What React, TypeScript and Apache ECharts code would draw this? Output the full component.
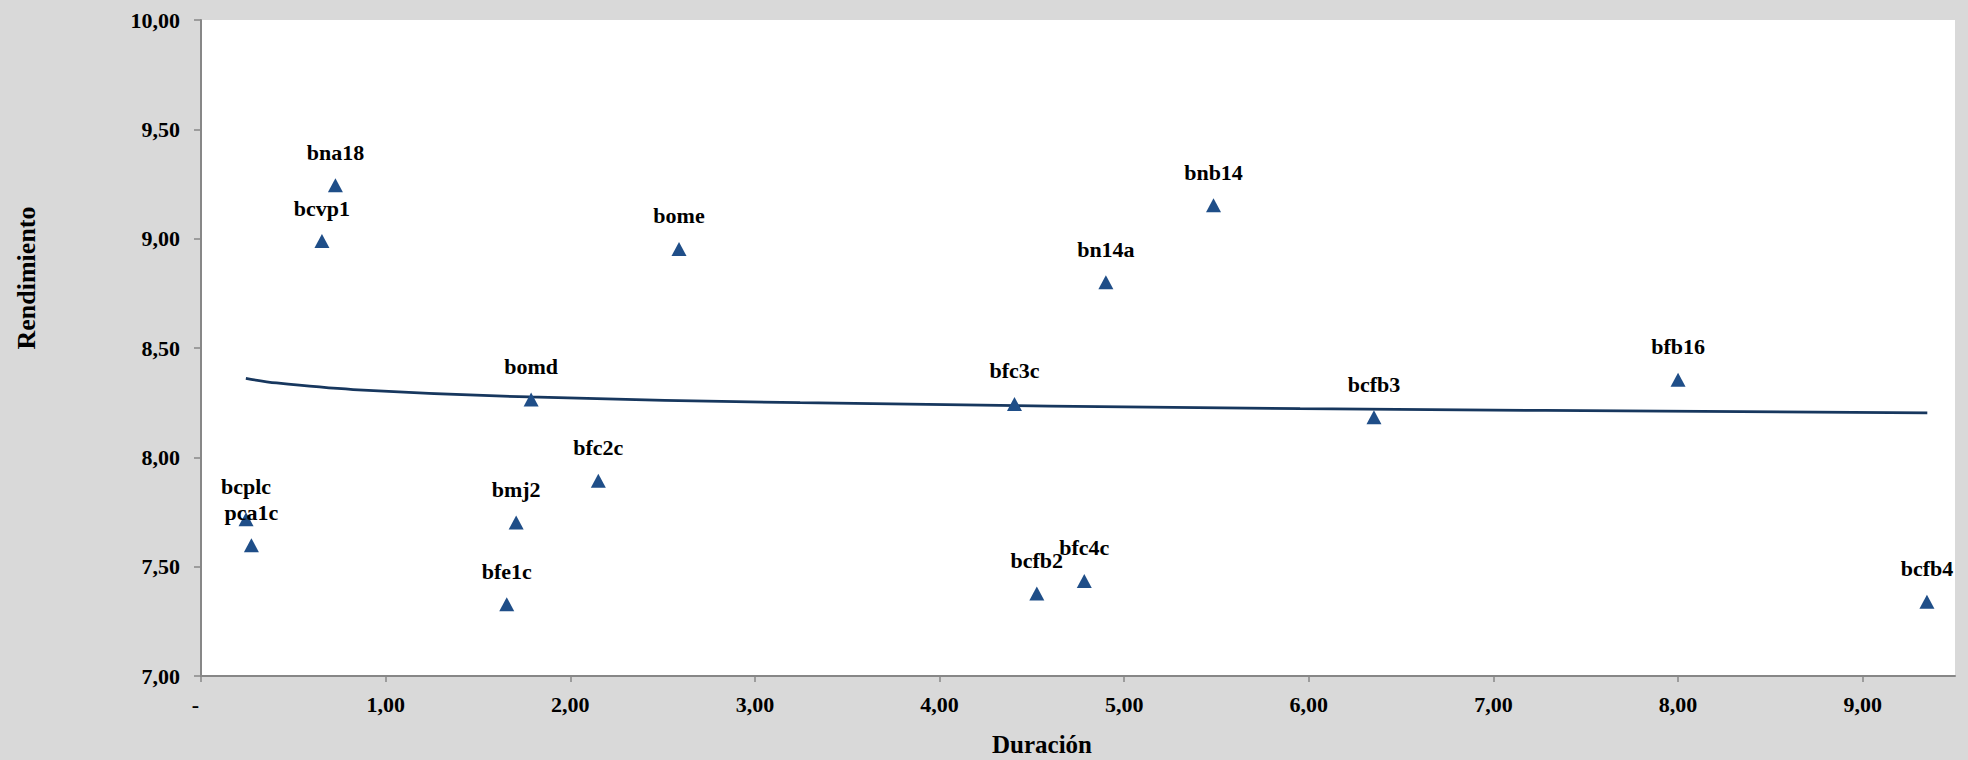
import React, { useEffect, useRef } from "react";
import * as echarts from "echarts";

// Bond names, durations (x) and yields (y)
const bondNames = [
  "bcplc", "pca1c", "bcvp1", "bna18", "bfe1c", "bmj2", "bomd", "bfc2c", "bome",
  "bfc3c", "bcfb2", "bfc4c", "bn14a", "bnb14", "bcfb3", "bfb16", "bcfb4",
];
const durations = [
  0.244, 0.273, 0.655, 0.728, 1.656, 1.707, 1.788, 2.152, 2.589,
  4.406, 4.527, 4.784, 4.901, 5.484, 6.353, 8.0, 9.348,
];
const yields = [
  7.717, 7.598, 8.989, 9.244, 7.328, 7.702, 8.264, 7.893, 8.953,
  8.244, 7.377, 7.435, 8.801, 9.153, 8.183, 8.355, 7.34,
];

// Trend curve
const curveX = [0.243, 0.409, 0.824, 1.777, 3.245, 5.953, 9.35];
const curveY = [8.361, 8.34, 8.31, 8.276, 8.25, 8.223, 8.203];

// Tick values
const xTicks = [0, 1, 2, 3, 4, 5, 6, 7, 8, 9];

const FONT = "'Liberation Serif', 'Times New Roman', serif";
const AXIS_GRAY = "#878787";

const fmt = (v: number) => v.toFixed(2).replace(".", ",");

export default function App() {
  const ref = useRef<HTMLDivElement>(null);

  useEffect(() => {
    if (!ref.current) return;
    const chart = echarts.init(ref.current, null, { renderer: "svg" });

    const labelStyle = {
      fontFamily: FONT,
      fontWeight: "bold" as const,
      fontSize: 22,
      color: "#000",
    };

    chart.setOption({
      animation: false,
      backgroundColor: "#d9d9d9",
      grid: {
        left: 201,
        top: 20,
        right: 13,
        bottom: 84,
        show: true,
        backgroundColor: "#ffffff",
        borderWidth: 0,
        containLabel: false,
      },
      xAxis: {
        type: "value",
        min: 0,
        max: 9.5,
        interval: 1,
        axisLine: { show: true, onZero: false, lineStyle: { color: AXIS_GRAY, width: 2 } },
        axisTick: {
          show: true,
          length: 6,
          customValues: xTicks,
          lineStyle: { color: AXIS_GRAY, width: 1.5 },
        },
        axisLabel: {
          ...labelStyle,
          customValues: xTicks,
          margin: 17,
          formatter: (v: number) => (v === 0 ? "-  " : fmt(v)),
        },
        splitLine: { show: false },
      },
      yAxis: {
        type: "value",
        min: 7,
        max: 10,
        interval: 0.5,
        axisLine: { show: true, onZero: false, lineStyle: { color: AXIS_GRAY, width: 2 } },
        axisTick: { show: true, length: 7, lineStyle: { color: AXIS_GRAY, width: 1.5 } },
        axisLabel: {
          ...labelStyle,
          margin: 21,
          formatter: (v: number) => fmt(v),
        },
        splitLine: { show: false },
      },
      series: [
        {
          type: "line",
          data: curveX.map((x, i) => [x, curveY[i]]),
          smooth: 0.35,
          showSymbol: false,
          symbol: "none",
          lineStyle: { color: "#17375e", width: 2.75 },
          z: 2,
          silent: true,
        },
        {
          type: "scatter",
          data: durations.map((d, i) => ({ value: [d, yields[i]], name: bondNames[i] })),
          symbol: "triangle",
          symbolSize: [15, 14],
          itemStyle: { color: "#1f4e88", opacity: 1 },
          label: {
            show: true,
            position: "top",
            distance: 15,
            formatter: (p: any) => p.name,
            ...labelStyle,
          },
          z: 3,
        },
      ],
      graphic: [
        {
          type: "text",
          x: 26,
          y: 278,
          rotation: Math.PI / 2,
          style: {
            text: "Rendimiento",
            align: "center",
            verticalAlign: "middle",
            fontFamily: FONT,
            fontWeight: "bold",
            fontSize: 26,
            fill: "#000",
          },
        },
        {
          type: "text",
          x: 1042,
          y: 744,
          style: {
            text: "Duración",
            align: "center",
            verticalAlign: "middle",
            fontFamily: FONT,
            fontWeight: "bold",
            fontSize: 25,
            fill: "#000",
          },
        },
      ],
    });

    return () => chart.dispose();
  }, []);

  return (
    <div
      ref={ref}
      style={{ position: "fixed", left: 0, top: 0, width: 1968, height: 760 }}
    />
  );
}
